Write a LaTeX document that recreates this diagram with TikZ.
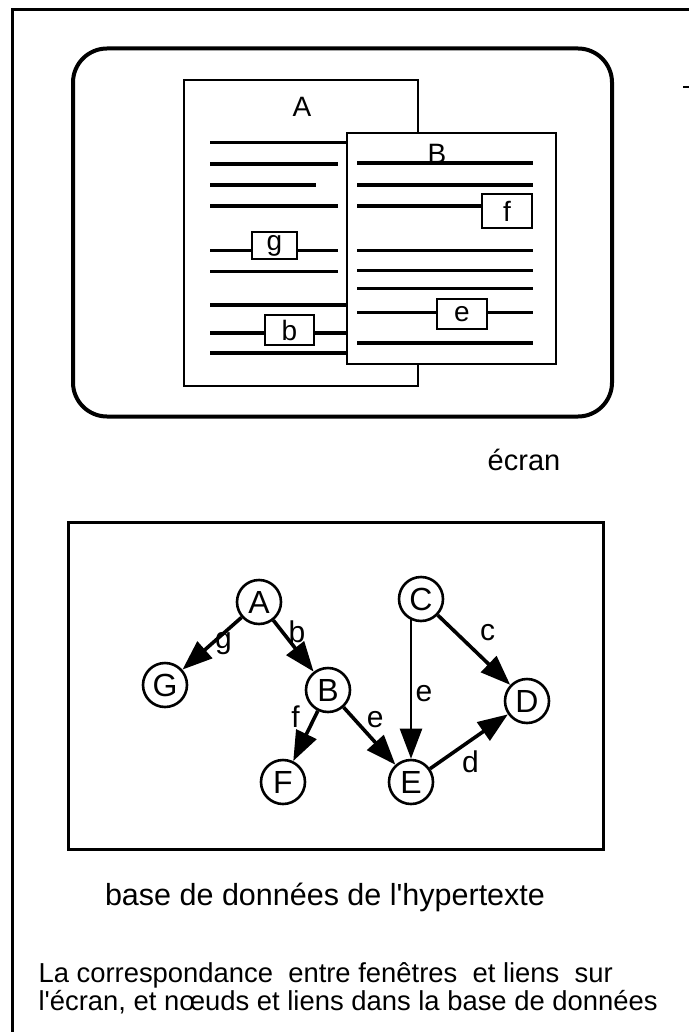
\documentclass[tikz,border=0pt]{standalone}
\usepackage{fontspec}
\setmainfont{Liberation Sans}
\usetikzlibrary{arrows.meta}
\newcommand{\taille}[1]{\fontsize{#1}{#1}\selectfont}
\tikzstyle{cadre} = [line width=3pt]
\tikzstyle{ecran} = [
    draw,
    line width=4pt,
    rounded corners=34pt,
    inner sep=0pt
    ]
\tikzstyle{fenetre} = [
    draw,
    fill=white,
    line width=2.7pt,
    inner sep=0pt
    ]
\tikzstyle{ligne} = [line width=3.2pt]
\tikzstyle{lien} = [
    draw,
    fill=white,
    line width=2.8pt,
    inner sep=0pt,
    font=\taille{28}
    ]
\tikzstyle{noeud} = [
    draw,
    circle,
    line width=2.6pt,
    minimum size=44pt,
    inner sep=0pt,
    font=\taille{32}
    ]
\tikzstyle{fleche} = [line width=3.6pt, -{Triangle[length=30pt,width=22pt]}]
\tikzstyle{etiquette} = [inner sep=0pt, font=\taille{30}]

\begin{document}
\begin{tikzpicture}[x=1pt, y=-1pt]
\useasboundingbox (0,0) rectangle (689,1032);
\draw[cadre] (12,1032) -- (12,10) -- (689,10);
\draw[line width=2pt] (683,87) -- (689,87);

% ecran
\node[ecran, minimum width=539pt, minimum height=368pt] (ecran) at (342.5,232.5) {};
\node[fenetre, minimum width=234pt, minimum height=306pt] (winA) at (301,233) {};
\node[font=\taille{28}, anchor=base] (titreA) at (302,117) {A};
\foreach \y/\xe in {142.7/347, 164/338, 185/316, 206/338, 250.7/338,
                    271.7/338, 305/347, 333/347, 353/347}
  \draw[ligne] (210,\y) -- (\xe,\y);
\node[lien, minimum width=45pt, minimum height=27pt] (liena) at (274.5,245.5) {g};
\node[lien, minimum width=49pt, minimum height=30pt] (lienb) at (289.5,330) {b};

\node[fenetre, minimum width=209pt, minimum height=231pt] (winB) at (451.5,248.5) {};
\foreach \y in {163,185,206,250.7,270.7,288.7,312.7,343}
  \draw[ligne] (357,\y) -- (533,\y);
\node[font=\taille{28}, anchor=base] (titreB) at (437,164) {B};
\node[lien, minimum width=50pt, minimum height=34pt] (lienf) at (507,211) {f};
\node[lien, minimum width=50pt, minimum height=30pt] (liene) at (462,314) {e};

\node[font=\taille{29}, anchor=base] (txtecran) at (524,470) {écran};

% base de donnees
\draw[cadre] (68,522) rectangle (603,849);
\node[noeud] (A) at (259,602) {A};
\node[noeud] (G) at (165,685) {G};
\node[noeud] (B) at (328,690) {B};
\node[noeud] (C) at (421,599) {C};
\node[noeud] (D) at (527,701) {D};
\node[noeud] (F) at (283,782) {F};
\node[noeud] (E) at (411,782) {E};

\draw[fleche] (A) -- node[etiquette, pos=0.39, xshift=5pt, yshift=-6pt] {g} (G);
\draw[fleche] (A) -- node[etiquette, pos=0.34, xshift=10pt, yshift=6.5pt] {b} (B);
\draw[fleche] (C) -- node[etiquette, pos=0.48, xshift=15pt, yshift=16pt] {c} (D);
\draw[fleche, line width=2.4pt, shorten <=-3pt] (E.north |- C.south)
   -- node[etiquette, pos=0.52, xshift=13pt] {e} (E.north);
\draw[fleche] (B) -- node[etiquette, pos=0.25, xshift=-16pt, yshift=7pt] {f} (F);
\draw[fleche] (B) -- node[etiquette, pos=0.38, xshift=12pt, yshift=10pt] {e} (E);
\draw[fleche] (E) -- node[etiquette, pos=0.39, xshift=10pt, yshift=-14pt] {d} (D);

\node[font=\taille{30.5}, anchor=base] (txtbase) at (325,905)
   {base de données de l\textquotesingle hypertexte};
\node[font=\taille{27.4}, anchor=base west] (legende1) at (35,982)
   {La correspondance\ \ entre fenêtres\ \ et liens\ \ sur};
\node[font=\taille{27.4}, anchor=base west] (legende2) at (35,1010)
   {l\textquotesingle écran, et nœuds et liens dans la base de données};
\end{tikzpicture}
\end{document}
